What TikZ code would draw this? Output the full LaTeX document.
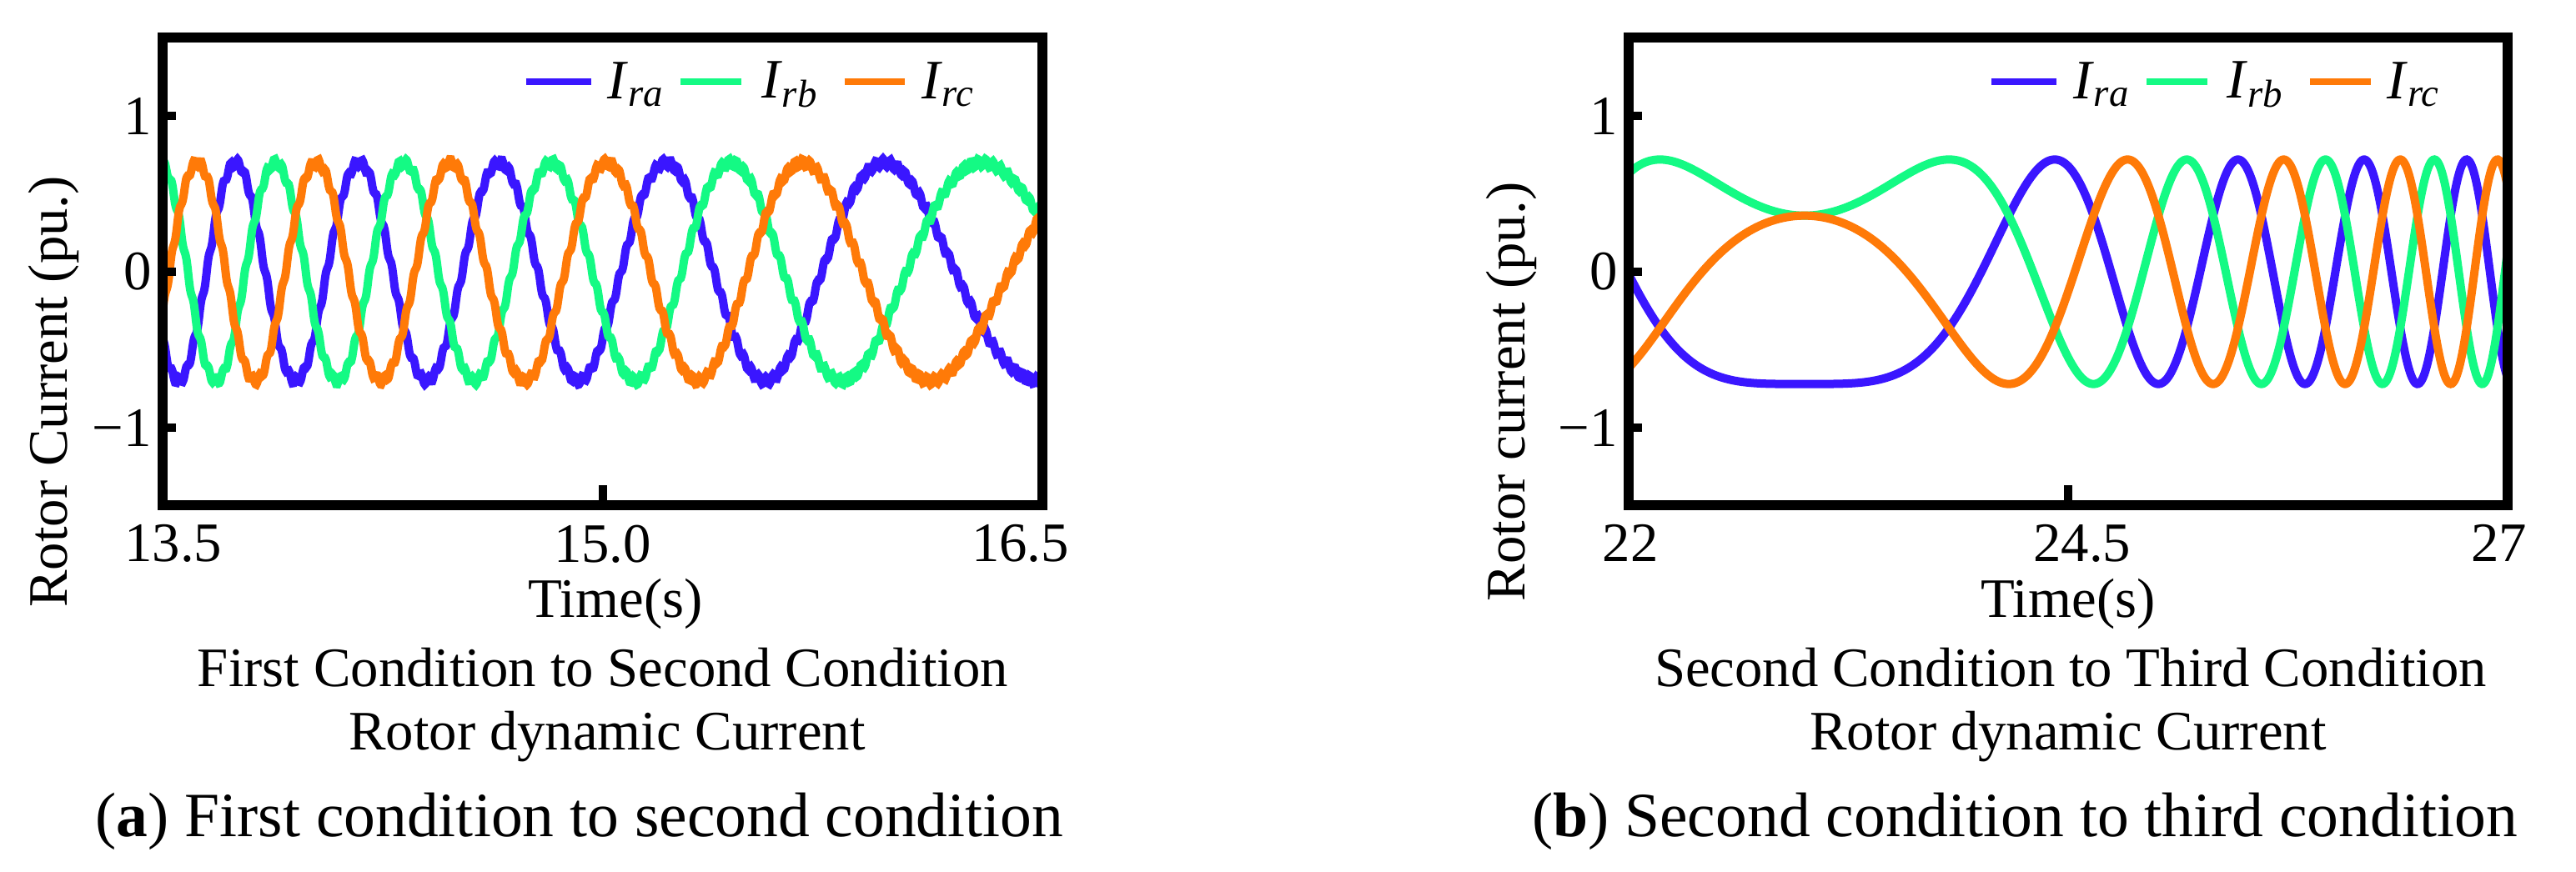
\documentclass[tikz,border=0pt]{standalone}
\usepackage{fontspec}
\setmainfont{Liberation Serif}
\usetikzlibrary{calc}
\definecolor{bluea}{HTML}{3A16FF}
\definecolor{greena}{HTML}{14FA84}
\definecolor{orangea}{HTML}{FF7A08}
\newcommand{\tsz}{\fontsize{19}{22}\selectfont}
\newcommand{\csz}{\fontsize{21.5}{25}\selectfont}
\tikzset{
  frame/.style={line width=0.12cm},
  tck/.style={line width=0.1cm},
  curve/.style={line width=0.1cm,samples=700,domain=0:1,smooth},
  lab/.style={font=\tsz,inner sep=0pt},
  captxt/.style={font=\csz,inner sep=0pt}
}
\begin{document}
\begin{tikzpicture}

\useasboundingbox (0,0) rectangle (30.89,10.45);

% left panel
\begin{scope}[shift={(1.95,7.19)},x=10.55cm,y=1.87cm]

\begin{scope}
\clip (0,-1.5) rectangle (1,1.5);
\draw[curve,bluea] plot (\x,{0.7*cos(2880*\x-1026*\x*\x-231.84)+0.025*sin(360*frac(120*\x))});
\draw[curve,greena] plot (\x,{0.7*cos(2880*\x-1026*\x*\x-351.84)+0.025*sin(360*frac(120*\x))});
\draw[curve,orangea] plot (\x,{0.7*cos(2880*\x-1026*\x*\x-471.84)+0.025*sin(360*frac(120*\x))});
\end{scope}

\draw[frame] (0,-1.5) rectangle (1,1.5);
\foreach \v in {-1,0,1} \draw[tck] (0,\v) -- (0.015,\v);
\draw[tck] (0.5,-1.5) -- (0.5,-1.37);

\node[lab,anchor=east] (yA1) at (-0.012,1) {1};
\node[lab,anchor=east] (yA0) at (-0.012,0) {0};
\node[lab,anchor=east] (yAm) at (-0.012,-1) {−1};
\node[lab,anchor=north] (xA0) at (0.012,-1.62) {13.5};
\node[lab,anchor=north] (xA1) at (0.5,-1.62) {15.0};
\node[lab,anchor=north] (xA2) at (0.975,-1.62) {16.5};

\coordinate (lgA1) at (0.413,1.22); \coordinate (lgA2) at (0.487,1.22);
\coordinate (lgB1) at (0.589,1.22); \coordinate (lgB2) at (0.658,1.22);
\coordinate (lgC1) at (0.775,1.22); \coordinate (lgC2) at (0.844,1.22);
\draw[line width=0.08cm,bluea] (lgA1) -- (lgA2);
\draw[line width=0.08cm,greena] (lgB1) -- (lgB2);
\draw[line width=0.08cm,orangea] (lgC1) -- (lgC2);
\node[lab,anchor=west] (lgAt) at (0.505,1.2) {\textit{I}\textsubscript{\textit{ra}}};
\node[lab,anchor=west] (lgBt) at (0.68,1.2) {\textit{I}\textsubscript{\textit{rb}}};
\node[lab,anchor=west] (lgCt) at (0.862,1.2) {\textit{I}\textsubscript{\textit{rc}}};
\end{scope}

\node[lab,rotate=90] (ylabA) at (0.64,5.75) {Rotor Current (pu.)};
\node[lab] (tA) at (7.38,3.21) {Time(s)};
\node[lab] (cA1) at (7.23,2.44) {First Condition to Second Condition};
\node[lab] (cA2) at (7.28,1.61) {Rotor dynamic Current};
\node[captxt] (capA) at (6.95,0.6) {(\textbf{a}) First condition to second condition};

% right panel
\begin{scope}[shift={(19.53,7.19)},x=10.54cm,y=1.87cm]

\begin{scope}
\clip (0,-1.5) rectangle (1,1.5);
\draw[curve,bluea] plot (\x,{0.72*cos(180-2220*(\x-0.2)*(\x-0.2))});
\draw[curve,greena] plot (\x,{0.72*cos(60-2220*(\x-0.2)*(\x-0.2))});
\draw[curve,orangea] plot (\x,{0.72*cos(300-2220*(\x-0.2)*(\x-0.2))});
\end{scope}

\draw[frame] (0,-1.5) rectangle (1,1.5);
\foreach \v in {-1,0,1} \draw[tck] (0,\v) -- (0.015,\v);
\draw[tck] (0.5,-1.5) -- (0.5,-1.37);

\node[lab,anchor=east] (yB1) at (-0.012,1) {1};
\node[lab,anchor=east] (yB0) at (-0.012,0) {0};
\node[lab,anchor=east] (yBm) at (-0.012,-1) {−1};
\node[lab,anchor=north] (xB0) at (0.002,-1.62) {22};
\node[lab,anchor=north] (xB1) at (0.516,-1.62) {24.5};
\node[lab,anchor=north] (xB2) at (0.99,-1.62) {27};

\coordinate (lgD1) at (0.413,1.22); \coordinate (lgD2) at (0.487,1.22);
\coordinate (lgE1) at (0.589,1.22); \coordinate (lgE2) at (0.658,1.22);
\coordinate (lgF1) at (0.775,1.22); \coordinate (lgF2) at (0.844,1.22);
\draw[line width=0.08cm,bluea] (lgD1) -- (lgD2);
\draw[line width=0.08cm,greena] (lgE1) -- (lgE2);
\draw[line width=0.08cm,orangea] (lgF1) -- (lgF2);
\node[lab,anchor=west] (lgDt) at (0.505,1.2) {\textit{I}\textsubscript{\textit{ra}}};
\node[lab,anchor=west] (lgEt) at (0.68,1.2) {\textit{I}\textsubscript{\textit{rb}}};
\node[lab,anchor=west] (lgFt) at (0.862,1.2) {\textit{I}\textsubscript{\textit{rc}}};
\end{scope}

\node[lab,rotate=90] (ylabB) at (18.12,5.75) {Rotor current (pu.)};
\node[lab] (tB) at (24.8,3.21) {Time(s)};
\node[lab] (cB1) at (24.83,2.44) {Second Condition to Third Condition};
\node[lab] (cB2) at (24.8,1.61) {Rotor dynamic Current};
\node[captxt] (capB) at (24.28,0.6) {(\textbf{b}) Second condition to third condition};

\end{tikzpicture}
\end{document}
